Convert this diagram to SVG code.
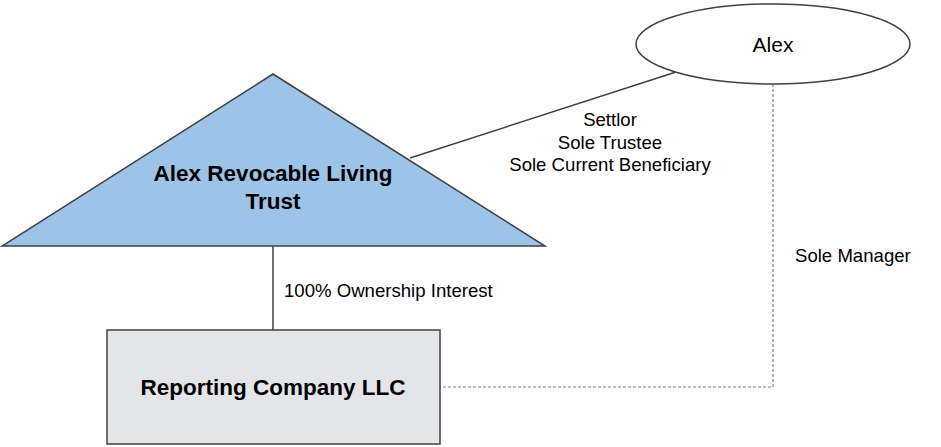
<svg xmlns="http://www.w3.org/2000/svg" width="941" height="447" viewBox="0 0 941 447">
<style>
.shape{stroke:#404040;stroke-width:1.5}
.conn{stroke:#404040;stroke-width:1.5;fill:none}
.dash{stroke:#808080;stroke-width:1.2;stroke-dasharray:3 2;fill:none}
.lbl{font-family:"Liberation Sans",Arial,sans-serif;font-size:18.6px;fill:#000}
.title{font-family:"Liberation Sans",Arial,sans-serif;font-size:22.5px;font-weight:bold;fill:#000;text-anchor:middle}
</style>
<rect width="941" height="447" fill="#fff"/>
<g id="connectors">
<line class="conn" x1="410" y1="158" x2="676" y2="72"/>
<line class="conn" x1="273" y1="246" x2="273" y2="330"/>
<polyline class="dash" points="773,84 773,387 440,387"/>
<text class="lbl" x="610" y="126" text-anchor="middle">Settlor</text>
<text class="lbl" x="610" y="149" text-anchor="middle">Sole Trustee</text>
<text class="lbl" x="610" y="171" text-anchor="middle">Sole Current Beneficiary</text>
<text class="lbl" x="284" y="297">100% Ownership Interest</text>
<text class="lbl" x="795" y="262">Sole Manager</text>
</g>
<g id="trust">
<polygon class="shape" fill="#9DC3E6" points="273,74 545,246 2,246"/>
<text class="title" x="273" y="181">Alex Revocable Living</text>
<text class="title" x="273" y="209">Trust</text>
</g>
<g id="alex">
<ellipse class="shape" fill="#fff" cx="773" cy="44" rx="137" ry="40"/>
<text class="lbl" x="773" y="52" text-anchor="middle" style="font-size:21px">Alex</text>
</g>
<g id="company">
<rect class="shape" fill="#E3E5E8" x="107" y="330" width="333" height="114"/>
<text class="title" x="273" y="395">Reporting Company LLC</text>
</g>
</svg>
